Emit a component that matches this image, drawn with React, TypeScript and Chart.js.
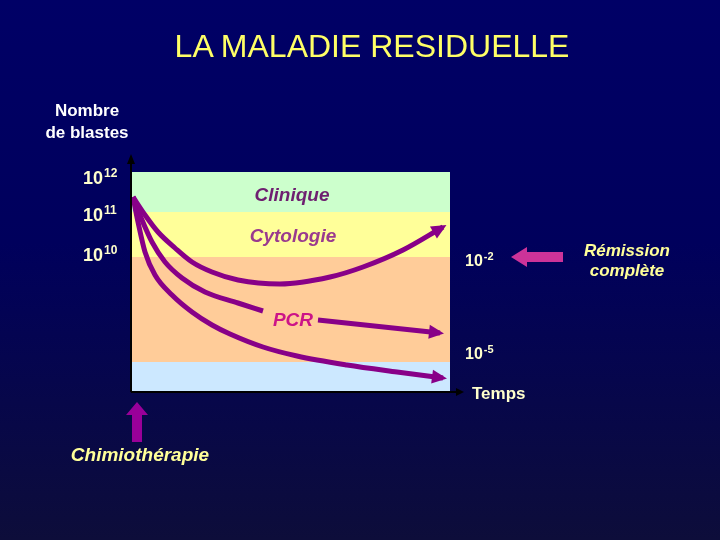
import React, { useEffect, useRef, useState } from "react";
import { Chart, registerables } from "chart.js";

Chart.register(...registerables);

const TITLE = "LA MALADIE RESIDUELLE";
const Y_TITLE = ["Nombre", "de blastes"];
const X_TITLE = "Temps";
const REMISSION = ["Rémission", "complète"];
const CHEMO = "Chimiothérapie";

// abstract units: x = time, y = tumour-load level
const X_MAX = 318;
const Y_MAX = 220;

const bandNames = ["Clinique", "Cytologie", "PCR", "Sous PCR"];
const bandLower = [180, 135, 30, 0];
const bandUpper = [220, 180, 135, 30];
const bandColors = ["#ccffcc", "#ffff99", "#ffcc99", "#cce8ff"];

// in-plot band labels (x, y in data units)
const bandLabelX = [160, 161, 161];
const bandLabelY = [198, 157, 73];
const bandLabelColors = ["#6e1f70", "#9a3a8e", "#cc1488"];

const leftTickValues = [214, 177, 137];
const leftTickBase = ["10", "10", "10"];
const leftTickExp = ["12", "11", "10"];
const rightTickValues = [131, 38];
const rightTickBase = ["10", "10"];
const rightTickExp = ["-2", "-5"];

const CHEMO_TIME = 5;

const cytoX = [1, 13, 26, 43, 60, 80, 106, 148, 198, 231, 271, 311];
const cytoY = [195, 177, 160, 144, 130, 120, 112, 108, 115, 125, 142, 165];
const pcrX = [1, 10, 20, 33, 50, 73, 106, 131, 158, 186, 308];
const pcrY: (number | null)[] = [195, 172, 150, 130, 114, 100, 89, 81, null, 72, 59];
const deepX = [1, 6, 13, 23, 40, 60, 80, 98, 131, 165, 215, 265, 311];
const deepY = [195, 170, 140, 117, 97, 80, 67, 58, 45, 36, 27, 20, 14];

const FONT = '"Liberation Sans", Arial, Helvetica, sans-serif';
const CURVE = "#880088";

type Pos = {
  left: number[];
  right: number[];
  band: { x: number; y: number }[];
};

export default function App() {
  const canvasRef = useRef<HTMLCanvasElement>(null);
  const [pos, setPos] = useState<Pos | null>(null);

  useEffect(() => {
    const canvas = canvasRef.current!;

    const bandsPlugin = {
      id: "bands",
      beforeDatasetsDraw(chart: any) {
        const { ctx, chartArea, scales } = chart;
        const y = scales.y;
        ctx.save();
        bandLower.forEach((lo, i) => {
          const top = y.getPixelForValue(bandUpper[i]);
          const bot = y.getPixelForValue(lo);
          ctx.fillStyle = bandColors[i];
          ctx.fillRect(chartArea.left, top, chartArea.right - chartArea.left, bot - top);
        });
        // axes (black, arrowed)
        ctx.strokeStyle = "#000000";
        ctx.fillStyle = "#000000";
        ctx.lineWidth = 2;
        const x0 = chartArea.left - 1;
        const yb = chartArea.bottom;
        ctx.beginPath();
        ctx.moveTo(x0, yb);
        ctx.lineTo(x0, chartArea.top - 10);
        ctx.stroke();
        ctx.beginPath();
        ctx.moveTo(x0, chartArea.top - 18);
        ctx.lineTo(x0 - 4, chartArea.top - 8);
        ctx.lineTo(x0 + 4, chartArea.top - 8);
        ctx.closePath();
        ctx.fill();
        ctx.beginPath();
        ctx.moveTo(x0, yb);
        ctx.lineTo(chartArea.right + 8, yb);
        ctx.stroke();
        ctx.beginPath();
        ctx.moveTo(chartArea.right + 14, yb);
        ctx.lineTo(chartArea.right + 6, yb - 4);
        ctx.lineTo(chartArea.right + 6, yb + 4);
        ctx.closePath();
        ctx.fill();
        ctx.restore();
      },
    };

    const arrowPlugin = {
      id: "arrowheads",
      afterDatasetsDraw(chart: any) {
        const { ctx } = chart;
        ctx.save();
        chart.data.datasets.forEach((ds: any, i: number) => {
          const meta = chart.getDatasetMeta(i);
          const pts = meta.data.filter((_p: any, j: number) => ds.data[j].y != null);
          const b = pts[pts.length - 1];
          const a = pts[pts.length - 2];
          let sx = a.x, sy = a.y;
          if (b.cp1x !== undefined && Math.hypot(b.x - b.cp1x, b.y - b.cp1y) > 1) {
            sx = b.cp1x;
            sy = b.cp1y;
          }
          const dx = b.x - sx, dy = b.y - sy;
          const L = Math.hypot(dx, dy) || 1;
          const ux = dx / L, uy = dy / L;
          const tipX = b.x + ux * 4, tipY = b.y + uy * 4;
          const len = 15, half = 7;
          const bx = tipX - ux * len, by = tipY - uy * len;
          ctx.fillStyle = ds.borderColor;
          ctx.beginPath();
          ctx.moveTo(tipX, tipY);
          ctx.lineTo(bx - uy * half, by + ux * half);
          ctx.lineTo(bx + uy * half, by - ux * half);
          ctx.closePath();
          ctx.fill();
        });
        ctx.restore();
      },
    };

    const calloutPlugin = {
      id: "callouts",
      afterDraw(chart: any) {
        const { ctx, chartArea, scales } = chart;
        ctx.save();
        // Rémission complète arrow, pointing at the cytology/PCR threshold
        const yr = scales.y.getPixelForValue(bandLower[1]);
        const tip = chartArea.right + 61;
        const end = chartArea.right + 113;
        ctx.fillStyle = "#cc3399";
        ctx.beginPath();
        ctx.moveTo(tip, yr);
        ctx.lineTo(tip + 16, yr - 10);
        ctx.lineTo(tip + 16, yr - 5);
        ctx.lineTo(end, yr - 5);
        ctx.lineTo(end, yr + 5);
        ctx.lineTo(tip + 16, yr + 5);
        ctx.lineTo(tip + 16, yr + 10);
        ctx.closePath();
        ctx.fill();
        // Chimiothérapie arrow, at the start of time
        const xc = scales.x.getPixelForValue(CHEMO_TIME);
        const t = chartArea.bottom + 10;
        ctx.fillStyle = "#990099";
        ctx.beginPath();
        ctx.moveTo(xc, t);
        ctx.lineTo(xc + 11, t + 13);
        ctx.lineTo(xc + 5, t + 13);
        ctx.lineTo(xc + 5, t + 40);
        ctx.lineTo(xc - 5, t + 40);
        ctx.lineTo(xc - 5, t + 13);
        ctx.lineTo(xc - 11, t + 13);
        ctx.closePath();
        ctx.fill();
        ctx.restore();
      },
    };

    const mk = (xs: number[], ys: (number | null)[]) => xs.map((x, i) => ({ x, y: ys[i] }));

    const chart = new Chart(canvas, {
      type: "line",
      data: {
        datasets: [
          { label: "Cytologie", data: mk(cytoX, cytoY), borderColor: CURVE },
          { label: "PCR", data: mk(pcrX, pcrY), borderColor: CURVE },
          { label: "Sous PCR", data: mk(deepX, deepY), borderColor: CURVE },
        ] as any,
      },
      options: {
        animation: false,
        responsive: false,
        events: [],
        spanGaps: false,
        layout: { padding: { left: 132, right: 270, top: 172, bottom: 148 } },
        scales: {
          x: { type: "linear", min: 0, max: X_MAX, display: false },
          y: { type: "linear", min: 0, max: Y_MAX, display: false },
        },
        elements: {
          point: { radius: 0 },
          line: { borderWidth: 5, cubicInterpolationMode: "monotone", borderCapStyle: "butt", borderJoinStyle: "round" },
        },
        plugins: { legend: { display: false }, tooltip: { enabled: false } },
      } as any,
      plugins: [bandsPlugin, arrowPlugin, calloutPlugin],
    });

    const ys = chart.scales.y;
    const xs = chart.scales.x;
    setPos({
      left: leftTickValues.map((v) => ys.getPixelForValue(v)),
      right: rightTickValues.map((v) => ys.getPixelForValue(v)),
      band: bandLabelX.map((x, i) => ({ x: xs.getPixelForValue(x), y: ys.getPixelForValue(bandLabelY[i]) })),
    });

    return () => chart.destroy();
  }, []);

  const abs = (s: React.CSSProperties): React.CSSProperties => ({
    position: "absolute",
    whiteSpace: "nowrap",
    fontFamily: FONT,
    lineHeight: 1,
    ...s,
  });

  const sup = (txt: string, size: number, rise: number) => (
    <span style={{ fontSize: size, position: "relative", top: -rise, marginLeft: 1 }}>{txt}</span>
  );

  return (
    <div
      style={{
        position: "fixed",
        left: 0,
        top: 0,
        width: 720,
        height: 540,
        overflow: "hidden",
        background: "linear-gradient(180deg, #000066 0%, #00005c 45%, #0d0d3a 100%)",
      }}
    >
      <canvas ref={canvasRef} width={720} height={540} style={{ position: "absolute", left: 0, top: 0, width: 720, height: 540 }} />

      <div style={abs({ left: 372, top: 30, transform: "translateX(-50%)", fontSize: 32, color: "#ffff66" })}>{TITLE}</div>

      <div style={abs({ left: 87, top: 102, transform: "translateX(-50%)", fontSize: 17, fontWeight: "bold", color: "#ffffff" })}>{Y_TITLE[0]}</div>
      <div style={abs({ left: 87, top: 124, transform: "translateX(-50%)", fontSize: 17, fontWeight: "bold", color: "#ffffff" })}>{Y_TITLE[1]}</div>

      {pos &&
        leftTickValues.map((_v, i) => (
          <div
            key={"l" + i}
            style={abs({ left: 83, top: pos.left[i], transform: "translateY(-50%)", fontSize: 18, fontWeight: "bold", color: "#ffffcc" })}
          >
            {leftTickBase[i]}
            {sup(leftTickExp[i], 12, 7)}
          </div>
        ))}

      {pos &&
        rightTickValues.map((_v, i) => (
          <div
            key={"r" + i}
            style={abs({ left: 465, top: pos.right[i], transform: "translateY(-50%)", fontSize: 16, fontWeight: "bold", color: "#ffffcc" })}
          >
            {rightTickBase[i]}
            {sup(rightTickExp[i], 11, 6)}
          </div>
        ))}

      {pos &&
        bandLabelX.map((_x, i) => (
          <div
            key={"b" + i}
            style={abs({
              left: pos.band[i].x,
              top: pos.band[i].y,
              transform: "translate(-50%, -50%)",
              fontSize: 19,
              fontWeight: "bold",
              fontStyle: "italic",
              color: bandLabelColors[i],
            })}
          >
            {bandNames[i]}
          </div>
        ))}

      <div style={abs({ left: 472, top: 385, fontSize: 17, fontWeight: "bold", color: "#ffffcc" })}>{X_TITLE}</div>

      <div style={abs({ left: 627, top: 242, transform: "translateX(-50%)", fontSize: 17, fontWeight: "bold", fontStyle: "italic", color: "#ffff99" })}>{REMISSION[0]}</div>
      <div style={abs({ left: 627, top: 262, transform: "translateX(-50%)", fontSize: 17, fontWeight: "bold", fontStyle: "italic", color: "#ffff99" })}>{REMISSION[1]}</div>

      <div style={abs({ left: 140, top: 445, transform: "translateX(-50%)", fontSize: 19, fontWeight: "bold", fontStyle: "italic", color: "#ffff99" })}>{CHEMO}</div>
    </div>
  );
}
